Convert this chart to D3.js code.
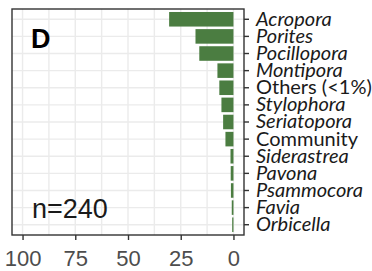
<!DOCTYPE html>
<html>
<head>
<meta charset="utf-8">
<script src="https://cdn.jsdelivr.net/npm/d3@7"></script>
<style>
  body { margin: 0; background: #fff; }
  svg { display: block; }
</style>
</head>
<body>
<div id="chart"></div>
<script>
// genera, top to bottom
const categories = ['Acropora', 'Porites', 'Pocillopora', 'Montipora', 'Others (<1%)', 'Stylophora',
  'Seriatopora', 'Community', 'Siderastrea', 'Pavona', 'Psammocora', 'Favia', 'Orbicella'];
const percents = [30.5, 18, 16.2, 7.6, 6.7, 5.7, 4.9, 3.8, 1.4, 1.3, 1.2, 0.8, 0.6];
const xTicks = [100, 75, 50, 25, 0];
const xMinor = [87.5, 62.5, 37.5, 12.5];
const uprightLabels = ['Others (<1%)', 'Community'];

const width = 372, height = 271;
const panel = {left: 12, right: 244, top: 9, bottom: 235};

const svg = d3.select('#chart').append('svg')
  .attr('width', width)
  .attr('height', height);

const x = d3.scaleLinear()
  .domain([105, -5])
  .range([panel.left, panel.right]);

const y = d3.scaleBand()
  .domain(categories)
  .range([panel.top, panel.bottom])
  .paddingInner(0.15)
  .paddingOuter(0.175);

// grid
svg.append('g').selectAll('line')
  .data(xTicks.concat(xMinor))
  .join('line')
  .attr('x1', d => x(d)).attr('x2', d => x(d))
  .attr('y1', panel.top).attr('y2', panel.bottom)
  .attr('stroke', '#ebebeb')
  .attr('stroke-width', 1.4);

svg.append('g').selectAll('line')
  .data(categories)
  .join('line')
  .attr('x1', panel.left).attr('x2', panel.right)
  .attr('y1', d => y(d) + y.bandwidth() / 2).attr('y2', d => y(d) + y.bandwidth() / 2)
  .attr('stroke', '#ebebeb')
  .attr('stroke-width', 1.4);

// bars
svg.append('g').selectAll('rect')
  .data(categories)
  .join('rect')
  .attr('x', (d, i) => x(percents[i]))
  .attr('y', d => y(d))
  .attr('width', (d, i) => x(0) - x(percents[i]))
  .attr('height', y.bandwidth())
  .attr('fill', '#4b7d41');

// border
svg.append('rect')
  .attr('x', panel.left).attr('y', panel.top)
  .attr('width', panel.right - panel.left).attr('height', panel.bottom - panel.top)
  .attr('fill', 'none')
  .attr('stroke', '#333')
  .attr('stroke-width', 1.4);

// bottom axis
const xAxis = svg.append('g')
  .attr('transform', `translate(0,${panel.bottom})`)
  .call(d3.axisBottom(x).tickValues(xTicks).tickSize(5).tickPadding(10));
xAxis.select('.domain').remove();
xAxis.selectAll('line').attr('stroke', '#333').attr('stroke-width', 1.4);
xAxis.selectAll('text')
  .attr('fill', '#4d4d4d')
  .style('font-family', '"Liberation Sans", Arial, sans-serif')
  .style('font-size', '22px');

// right axis
const yAxis = svg.append('g')
  .attr('transform', `translate(${panel.right},0)`)
  .call(d3.axisRight(y).tickSize(5).tickPadding(7));
yAxis.select('.domain').remove();
yAxis.selectAll('line').attr('stroke', '#333').attr('stroke-width', 1.4);
yAxis.selectAll('text')
  .attr('fill', '#1a1a1a')
  .style('font-family', 'Lato, "Open Sans", sans-serif')
  .style('font-size', '20px')
  .style('font-style', d => uprightLabels.includes(d) ? 'normal' : 'italic');

// annotations
svg.append('text')
  .attr('x', 31).attr('y', 48)
  .style('font-family', '"Liberation Sans", Arial, sans-serif')
  .style('font-size', '27px')
  .style('font-weight', 'bold')
  .text('D');

svg.append('text')
  .attr('x', 32).attr('y', 218)
  .attr('fill', '#1a1a1a')
  .style('font-family', '"Liberation Sans", Arial, sans-serif')
  .style('font-size', '27px')
  .text('n=240');
</script>
</body>
</html>
